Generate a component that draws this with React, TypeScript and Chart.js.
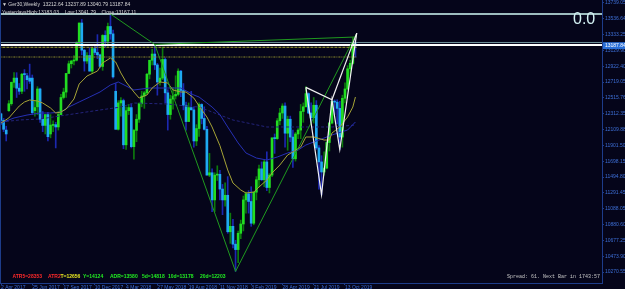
import React, { useEffect, useRef } from 'react';
import { Chart, registerables } from 'chart.js';

Chart.register(...registerables);

// ---- Weekly Ger30 candles, 2 Apr 2017 (index 0) .. 10 Nov 2019 (index 136) ----
const opens = [
  12310, 12225, 12100, 12350, 12440, 12715, 12770, 12640, 12600, 12820,
  12800, 12770, 12770, 12350, 12400, 12630, 12240, 12160, 12300, 12050,
  12160, 12170, 12140, 12300, 12520, 12590, 12830, 12955, 12990, 13000,
  13220, 13480, 13130, 12990, 13060, 12860, 13150, 13100, 13070, 12920,
  13320, 13245, 13435, 13340, 12600, 12110, 12450, 12480, 11910, 12350,
  12390, 11886, 12096, 12240, 12440, 12540, 12580, 12820, 13000, 13080,
  12940, 12720, 12770, 13010, 12580, 12300, 12500, 12540, 12560, 12860,
  12610, 12420, 12210, 12390, 12360, 11960, 12120, 12430, 12250, 12110,
  11520, 11550, 11200, 11520, 11530, 11340, 11200, 11260, 10790, 10860,
  10630, 10560, 10770, 10890, 11200, 11280, 11180, 10900, 11300, 11460,
  11600, 11460, 11690, 11360, 11520, 12000, 11990, 12220, 12320, 12410,
  12060, 12240, 12010, 11730, 12050, 12100, 12340, 12400, 12570, 12320,
  12260, 12420, 11870, 11690, 11560, 11610, 11940, 12190, 12470, 12460,
  12380, 12010, 12510, 12630, 12890, 12960, 13212.64,
];
const highs = [
  12320, 12250, 12150, 12480, 12720, 12840, 12840, 12700, 12830, 12880,
  12830, 12950, 12810, 12480, 12660, 12640, 12340, 12300, 12330, 12300,
  12220, 12200, 12340, 12560, 12640, 12830, 12990, 13000, 13060, 13240,
  13480, 13525, 13140, 13100, 13160, 13160, 13200, 13330, 13080, 13330,
  13380, 13480, 13596, 13390, 12700, 12480, 12520, 12500, 12400, 12430,
  12440, 12110, 12300, 12450, 12600, 12600, 12830, 13000, 13140, 13204,
  12960, 12900, 13170, 13030, 12620, 12550, 12650, 12800, 12890, 12870,
  12700, 12460, 12450, 12600, 12400, 12170, 12450, 12440, 12400, 12150,
  11800, 11600, 11550, 11640, 11580, 11400, 11420, 11500, 11030, 10950,
  10680, 10800, 10940, 11250, 11300, 11320, 11370, 11300, 11500, 11650,
  11690, 11710, 11820, 11540, 12000, 12050, 12250, 12380, 12440, 12450,
  12280, 12280, 12100, 12070, 12120, 12430, 12450, 12660, 12580, 12450,
  12520, 12480, 11900, 11770, 11820, 11950, 12200, 12470, 12490, 12490,
  12470, 12550, 12710, 12930, 13000, 13290, 13237.89,
];
const lows = [
  12170, 12080, 11960, 12340, 12420, 12650, 12520, 12560, 12570, 12600,
  12630, 12700, 12300, 12280, 12300, 12200, 12080, 12050, 11960, 12000,
  12080, 11870, 12100, 12300, 12500, 12520, 12830, 12900, 12940, 12990,
  13200, 13070, 12860, 12960, 12860, 12830, 13070, 13020, 12900, 12870,
  13170, 13180, 13270, 12770, 12110, 12100, 12280, 11860, 11850, 12300,
  11870, 11726, 11950, 12200, 12400, 12380, 12560, 12760, 12940, 12880,
  12550, 12680, 12750, 12450, 12100, 12240, 12370, 12500, 12540, 12530,
  12360, 12100, 12210, 12360, 11880, 11900, 12020, 12180, 12100, 11520,
  11500, 11050, 11050, 11450, 11200, 11010, 11120, 10770, 10640, 10580,
  10279, 10390, 10700, 10800, 11030, 11030, 10860, 10880, 11200, 11370,
  11450, 11370, 11320, 11290, 11500, 11800, 11980, 12170, 12250, 11880,
  11840, 11950, 11620, 11700, 11990, 11990, 12200, 12400, 12310, 12200,
  12190, 11850, 11340, 11266, 11520, 11600, 11830, 12180, 12300, 12180,
  11850, 11880, 12450, 12620, 12800, 12950, 13040.79,
];
const closes = [
  12225, 12110, 12050, 12440, 12715, 12770, 12640, 12600, 12820, 12815,
  12750, 12730, 12325, 12390, 12630, 12240, 12160, 12300, 12015, 12165,
  12170, 12140, 12300, 12520, 12590, 12830, 12955, 12990, 13000, 13220,
  13480, 13130, 12990, 13060, 12860, 13150, 13100, 13070, 12920, 13320,
  13245, 13435, 13340, 12785, 12110, 12450, 12480, 11910, 12350, 12390,
  11886, 12096, 12240, 12440, 12540, 12580, 12820, 13000, 13080, 12940,
  12720, 12770, 13010, 12580, 12300, 12500, 12540, 12560, 12860, 12610,
  12420, 12210, 12390, 12360, 11960, 12120, 12430, 12250, 12110, 11520,
  11550, 11200, 11520, 11530, 11340, 11200, 11260, 10790, 10860, 10630,
  10560, 10770, 10890, 11200, 11280, 11180, 10900, 11300, 11460, 11600,
  11460, 11690, 11360, 11520, 12000, 11990, 12220, 12320, 12410, 12060,
  12240, 12010, 11730, 12050, 12100, 12340, 12400, 12570, 12320, 12260,
  12420, 11870, 11690, 11560, 11610, 11940, 12190, 12470, 12460, 12380,
  12010, 12510, 12630, 12890, 12960, 13230, 13187.84,
];

// ---- time axis ----
const timeTickIdx = [0, 12, 24, 36, 48, 60, 72, 84, 96, 108, 120, 132];
const timeLabels = [
  '2 Apr 2017', '25 Jun 2017', '17 Sep 2017', '10 Dec 2017', '4 Mar 2018', '27 May 2018',
  '19 Aug 2018', '11 Nov 2018', '3 Feb 2019', '28 Apr 2019', '21 Jul 2019', '13 Oct 2019',
];

// ---- price axis ----
const priceTicks = [
  13739.05, 13536.64, 13333.25, 13129.9, 12922.4, 12719.05, 12515.76, 12312.35, 12109.88,
  11901.5, 11698.15, 11494.8, 11291.45, 11088.05, 10880.6, 10677.25, 10473.9, 10270.55,
];
const bidPrice = 13187.84;

// ---- moving averages ----
const fastMaIdx = [0, 3, 5, 7, 9, 11, 14, 16, 19, 21, 23, 25, 28, 30, 33, 37, 39, 42, 44, 46, 48, 51, 53, 56, 58, 61, 64, 66, 69, 71, 74, 76, 79, 81, 84, 87, 89, 92, 94, 97, 99, 102, 104, 107, 110, 112, 115, 117, 120, 124, 126, 127, 130, 133, 135, 136];
const fastMaVal = [12191, 12256, 12333, 12410, 12462, 12488, 12475, 12449, 12385, 12320, 12333, 12372, 12501, 12694, 12797, 12861, 12965, 13029, 12977, 12836, 12720, 12591, 12513, 12552, 12642, 12720, 12707, 12617, 12591, 12591, 12513, 12410, 12269, 12140, 11900, 11586, 11418, 11328, 11289, 11302, 11366, 11457, 11547, 11650, 11779, 11818, 11882, 12011, 12011, 11972, 11972, 12062, 12140, 12269, 12397, 12526];
const midMaIdx = [0, 5, 10, 15, 19, 23, 26, 30, 34, 38, 42, 45, 51, 57, 64, 69, 74, 76, 79, 81, 84, 87, 91, 94, 98, 102, 106, 110, 114, 117, 122, 127, 133, 136];
const midMaVal = [12191, 12256, 12294, 12320, 12320, 12333, 12397, 12462, 12526, 12591, 12681, 12720, 12617, 12642, 12642, 12642, 12552, 12526, 12449, 12397, 12300, 12140, 11934, 11805, 11740, 11714, 11753, 11805, 11843, 11908, 11972, 12037, 12101, 12204];
const slowMaIdx = [0, 7, 15, 25, 38, 46, 51, 64, 71, 76, 89, 102, 115, 127, 136];
const slowMaVal = [12204, 12230, 12243, 12294, 12359, 12397, 12449, 12436, 12410, 12397, 12230, 12140, 12140, 12140, 12165];

// ---- drawn objects ----
const zigIdx = [42, 59, 90, 136.5];
const zigVal = [13596, 13204, 10279, 13350];
const zigTopIdx = [59, 136.5];
const zigTopVal = [13204, 13300];
const harmIdx = [117, 123, 127, 130, 136.5];
const harmVal = [12650, 11266, 12490, 11850, 13350];
const harmXB = [117, 127];
const harmBD = [127, 136.5];

const fibZero = 13596;
const whiteLevel = 13196;
const grayLevel = 13229;
const ydayClose = 13167.11;
const ydayLow = 13041.79;

const BG = '#05051a';
const AXIS = '#1d3c8a';
const LABEL = '#3d6fd6';
const FONT = "'Liberation Sans', Arial, sans-serif";

const X_MIN = -0.384;
const X_MAX = 230.62;
const Y_MIN = 10129.5;
const Y_MAX = 13776.4;

const pts = (idx: number[], vals: number[]) => idx.map((x, k) => ({ x, y: vals[k] }));
const hLine = (v: number, from = -1, to = 232) => [{ x: from, y: v }, { x: to, y: v }];

const overlay = {
  id: 'mt4overlay',
  beforeDraw(chart: any) {
    const { ctx, width, height } = chart;
    ctx.save();
    ctx.fillStyle = BG;
    ctx.fillRect(0, 0, width, height);
    ctx.restore();
  },
  afterDraw(chart: any) {
    const { ctx, chartArea, scales } = chart;
    ctx.save();
    // left frame
    ctx.strokeStyle = AXIS;
    ctx.lineWidth = 1;
    ctx.beginPath();
    ctx.moveTo(0.5, 0);
    ctx.lineTo(0.5, chartArea.bottom);
    ctx.stroke();

    // header
    ctx.fillStyle = '#d6d6d6';
    ctx.font = `5px ${FONT}`;
    ctx.textBaseline = 'middle';
    ctx.textAlign = 'left';
    ctx.fillText('\u25BC Ger30,Weekly  13212.64 13237.89 13040.79 13187.84', 2, 4.5);
    ctx.fillText('YesterdaysHigh:13183.03    Low:13041.79    Close:13167.11', 2, 12.5);

    // fib label
    ctx.fillStyle = '#d2f0f2';
    ctx.font = `16px ${FONT}`;
    ctx.textBaseline = 'alphabetic';
    ctx.fillText('0.0', 573, 24);

    // indicator readout
    ctx.font = `bold 5px ${FONT}`;
    ctx.textBaseline = 'middle';
    const items: [string, number, string][] = [
      ['ATR5=28353', 12.5, '#ff2a2a'],
      ['ATR2', 48, '#ff2a2a'],
      ['T=12656', 60.5, '#e8e820'],
      ['Y=14124', 83, '#22ee22'],
      ['ADR=13580', 110, '#22ee22'],
      ['5d=14818', 142, '#22ee22'],
      ['10d=13178', 168, '#22ee22'],
      ['20d=12203', 200, '#22ee22'],
    ];
    items.forEach(([t, x, c]) => {
      ctx.fillStyle = c;
      ctx.fillText(t, x, 277);
    });

    // spread readout
    ctx.fillStyle = '#c8c8c8';
    ctx.font = `5px 'Liberation Mono', monospace`;
    ctx.fillText('Spread: 61. Next Bar in 1743:57', 507, 277);

    // current price tag
    const py = scales.y.getPixelForValue(bidPrice);
    ctx.fillStyle = '#2a6ed6';
    ctx.fillRect(chartArea.right + 1, py - 3.5, 23, 7);
    ctx.fillStyle = '#ffffff';
    ctx.font = `5px ${FONT}`;
    ctx.fillText(bidPrice.toFixed(2), chartArea.right + 3, py);
    ctx.restore();
  },
};

export default function App() {
  const ref = useRef<HTMLCanvasElement>(null);

  useEffect(() => {
    const canvas = ref.current as HTMLCanvasElement;
    const up = closes.map((c, i) => c >= opens[i]);
    const wickData = lows.map((l, i) => ({ x: i, y: [l, highs[i]] }));
    const bodyData = opens.map((o, i) => ({ x: i, y: [o, closes[i]] }));

    const line = (data: any[], color: string, width: number, order: number, dash: number[] = []) => ({
      type: 'line' as const,
      data,
      borderColor: color,
      borderWidth: width,
      borderDash: dash,
      pointRadius: 0,
      fill: false,
      tension: 0,
      order,
    });

    const chart = new Chart(canvas, {
      type: 'bar',
      data: {
        datasets: [
          line(pts(harmIdx, harmVal), '#f2f2f2', 1.2, 1),
          line(pts(harmXB, [harmVal[0], harmVal[2]]), '#f2f2f2', 1.2, 1),
          line(pts(harmBD, [harmVal[2], harmVal[4]]), '#f2f2f2', 1.2, 1),
          line(pts(zigIdx, zigVal), '#1f9a1f', 1, 2),
          line(pts(zigTopIdx, zigTopVal), '#1f9a1f', 1, 2),
          line(hLine(fibZero), '#9dbcbe', 2, 3),
          line(hLine(grayLevel), '#6f8f9a', 1, 3),
          line(hLine(whiteLevel), '#ffffff', 2, 3),
          line(hLine(ydayClose, -1, 136.5), '#a8a838', 1, 3, [3, 1]),
          line(hLine(ydayLow, -1, 136.5), '#8c8c2c', 1, 3, [2, 1, 1, 1]),
          line(pts(fastMaIdx, fastMaVal), '#a6a436', 1, 4),
          line(pts(midMaIdx, midMaVal), '#2630b4', 1, 4),
          line(pts(slowMaIdx, slowMaVal), '#23237a', 1, 4, [3, 2]),
          {
            type: 'bar' as const,
            data: bodyData as any,
            backgroundColor: up.map((u) => (u ? '#22dd22' : '#1eaaf2')),
            barThickness: 2,
            minBarLength: 1,
            grouped: false,
            order: 5,
          },
          {
            type: 'bar' as const,
            data: wickData as any,
            backgroundColor: up.map((u) => (u ? '#0d7a0d' : '#1c28b0')),
            barThickness: 1,
            grouped: false,
            order: 6,
          },
        ] as any,
      },
      options: {
        responsive: false,
        maintainAspectRatio: false,
        animation: false,
        devicePixelRatio: 1,
        events: [],
        layout: { padding: 0 },
        plugins: { legend: { display: false }, tooltip: { enabled: false } },
        scales: {
          x: {
            type: 'linear',
            min: X_MIN,
            max: X_MAX,
            offset: false,
            position: 'bottom',
            grid: { display: true, drawOnChartArea: false, drawTicks: true, tickLength: 2, color: AXIS, offset: false },
            border: { display: true, color: AXIS },
            ticks: {
              autoSkip: false,
              maxRotation: 0,
              minRotation: 0,
              align: 'start',
              padding: 0,
              color: LABEL,
              font: { size: 5, family: FONT },
              callback: (v: any) => {
                const k = timeTickIdx.indexOf(Number(v));
                return k >= 0 ? timeLabels[k] : '';
              },
            },
            afterBuildTicks: (s: any) => {
              s.ticks = timeTickIdx.map((v) => ({ value: v }));
            },
            afterFit: (s: any) => {
              s.height = 6;
              s.paddingLeft = 0;
              s.paddingRight = 0;
            },
          },
          y: {
            type: 'linear',
            position: 'right',
            min: Y_MIN,
            max: Y_MAX,
            beginAtZero: false,
            grid: { display: true, drawOnChartArea: false, drawTicks: true, tickLength: 2, color: AXIS },
            border: { display: true, color: AXIS },
            ticks: {
              padding: 1,
              color: LABEL,
              font: { size: 5, family: FONT },
              callback: (v: any) => Number(v).toFixed(2),
            },
            afterBuildTicks: (s: any) => {
              s.ticks = priceTicks.map((v) => ({ value: v }));
            },
            afterFit: (s: any) => {
              s.width = 23;
              s.paddingTop = 0;
              s.paddingBottom = 0;
            },
          },
        },
      } as any,
      plugins: [overlay],
    });
    return () => chart.destroy();
  }, []);

  return (
    <div style={{ position: 'fixed', left: 0, top: 0, width: 625, height: 289, background: BG }}>
      <canvas ref={ref} width={625} height={289} style={{ display: 'block', width: 625, height: 289 }} />
    </div>
  );
}
